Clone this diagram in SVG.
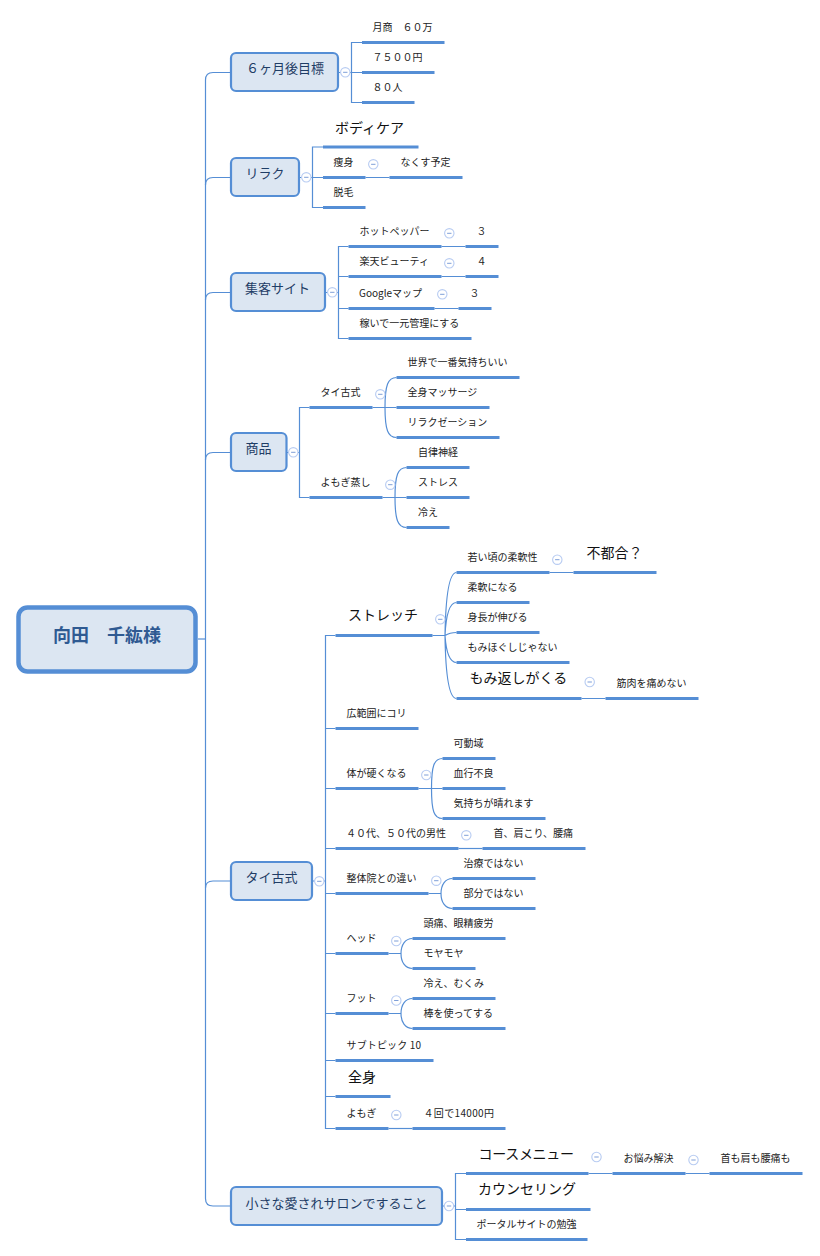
<svg xmlns="http://www.w3.org/2000/svg" width="820" height="1256" viewBox="0 0 820 1256">
<defs>
<style>
text{font-family:"Noto Sans CJK JP","Noto Sans",sans-serif;fill:#222}
.s{font-size:10px}
.m{font-size:14px;fill:#111}
.b{font-size:13px;fill:#1f3d66}
.r{font-size:18px;font-weight:700;fill:#2f5a92}
.box{fill:#dce6f2;stroke:#558ed5;stroke-width:2.2}
.u{stroke:#558ed5;stroke-width:3;fill:none}
.c path{stroke:#558ed5;stroke-width:1.2;fill:none}
</style>
<g id="tog"><circle r="4.7" fill="#fff" stroke="#b8ccf2" stroke-width="1.1"/><path d="M-2.2 0H2.2" stroke="#7f9fd8" stroke-width="1"/></g>
</defs>
<rect width="820" height="1256" fill="#fff"/>
<g id="connectors" class="c">
<path d="M198 639H205.5"/>
<path d="M230.5 72.5H213Q205.5 72.5 205.5 80V1198.5Q205.5 1206 213 1206H230.5"/>
<path d="M230.5 177.5H213Q205.5 177.5 205.5 185"/>
<path d="M230.5 292.5H213Q205.5 292.500 205.5 300"/>
<path d="M230.5 452.5H213Q205.5 452.5 205.5 460"/>
<path d="M230.5 881H213Q205.5 881 205.5 888"/>
<path d="M339 72.5H351.5M362 42.5H351.5V102.5H362M351.5 72.5H362"/>
<path d="M299 177.5H323M323 147H312.5V207.5H323M365.5 177.5H389.5"/>
<path d="M325 292.5H338.5M348.5 246.5H338.5V338.5H348.5M338.5 276.5H348.5M338.5 308.5H348.5M441.5 246.5H465.5M441.5 276.5H465.5M434.5 308.5H458.5"/>
<path d="M287 452.5H299.5M309.5 407.5H299.5V497.5H309.5"/>
<path d="M372.5 407.5H396.5M385 407.5C385 385 388 377.5 396.5 377.5M385 407.5C385 430 388 437.5 396.5 437.5"/>
<path d="M382.5 497.5H406.5M395 497.5C395 475 398 467.5 406.5 467.5M395 497.5C395 520 398 527.5 406.5 527.5"/>
<path d="M312.5 881H325.5M335.5 635.5H325.5V1128.5H335.5M325.5 728.5H335.5M325.5 788.5H335.5M325.5 848.5H335.5M325.5 893.5H335.5M325.5 953.5H335.5M325.5 1013.5H335.5M325.5 1060.5H335.5M325.5 1096.5H335.5"/>
<path d="M432.5 635.5H445M445 635.5C445.500 605 448 572.5 456.5 572.5M445 635.5C446 615 449 602.5 456.5 602.5M445 635.5C449 633 452 632.5 456.5 632.5M445 635.5C446 650 449 662.5 456.5 662.5M445 635.5C445.500 670 448 698.5 456.5 698.5"/>
<path d="M549.5 572.5H573.5M581.5 698.5H605.5"/>
<path d="M418.5 788.5H442.5M431.5 788.5C431.5 766 434 758.5 442.5 758.5M431.5 788.5C431.5 811 434 818.5 442.5 818.5"/>
<path d="M458.5 848.5H482.5"/>
<path d="M428.5 893.5H441M452.5 878.5C445 878.5 441 885 441 893.5C441 902 445 908.5 452.5 908.5"/>
<path d="M388.5 953.5H401M412.5 938.5C405 938.5 401 945 401 953.5C401 962 405 968.5 412.5 968.5"/>
<path d="M388.5 1013.5H401M412.5 998.5C405 998.5 401 1005 401 1013.5C401 1022 405 1028.5 412.5 1028.5"/>
<path d="M388.5 1128.5H412.5"/>
<path d="M443 1206H455.5M466 1173.5H455.5V1239.5H466M455.5 1209.5H466M588.5 1173.5H612.5M685.5 1173.5H709.5"/>
</g>
<g id="root"><rect x="18.5" y="607.5" width="177" height="64" rx="9" fill="#dce6f2" stroke="#558ed5" stroke-width="4.5"/><text class="r" x="53" y="641.500">向田　千紘様</text></g>

<g id="n1"><rect class="box" x="231" y="53" width="107" height="38" rx="5"/><text class="b" x="246" y="72.500">６ヶ月後目標</text><use href="#tog" x="345.3" y="72.3"/></g>
<g id="n1a"><text class="s" x="372.5" y="31">月商　６０万</text><path class="u" d="M362 42.5H444.5"/></g>
<g id="n1b"><text class="s" x="372.5" y="61">７５００円</text><path class="u" d="M362 72.5H434.5"/></g>
<g id="n1c"><text class="s" x="372.5" y="91">８０人</text><path class="u" d="M362 102.5H414.5"/></g>

<g id="n2"><rect class="box" x="231" y="158" width="68" height="38" rx="5"/><text class="b" x="245.5" y="177.500">リラク</text><use href="#tog" x="306.3" y="177.3"/></g>
<g id="n2a"><text class="m" x="335" y="132.5">ボディケア</text><path class="u" d="M323 147H418.5"/></g>
<g id="n2b"><text class="s" x="333.5" y="165.5">痩身</text><path class="u" d="M323 177.5H365.5"/><use href="#tog" x="373.3" y="164.3"/></g>
<g id="n2c"><text class="s" x="400.5" y="165.5">なくす予定</text><path class="u" d="M389.5 177.5H462.5"/></g>
<g id="n2d"><text class="s" x="333.5" y="195.5">脱毛</text><path class="u" d="M323 207.5H365.5"/></g>

<g id="n3"><rect class="box" x="231" y="273" width="94" height="38" rx="5"/><text class="b" x="245" y="292.500">集客サイト</text><use href="#tog" x="332.3" y="292.3"/></g>
<g id="n3a"><text class="s" x="359.5" y="234.5">ホットペッパー</text><path class="u" d="M348.5 246.5H441.5"/><use href="#tog" x="449.3" y="233.3"/></g>
<g id="n3a1"><text class="s" x="476.500" y="234.5">３</text><path class="u" d="M465.5 246.5H498.5"/></g>
<g id="n3b"><text class="s" x="359.5" y="264.5">楽天ビューティ</text><path class="u" d="M348.5 276.5H441.5"/><use href="#tog" x="449.3" y="263.3"/></g>
<g id="n3b1"><text class="s" x="476.500" y="264.5">４</text><path class="u" d="M465.5 276.5H498.5"/></g>
<g id="n3c"><text class="s" x="359" y="296.5">Googleマップ</text><path class="u" d="M348.5 308.5H434.5"/><use href="#tog" x="442.3" y="294.3"/></g>
<g id="n3c1"><text class="s" x="469.500" y="296.5">３</text><path class="u" d="M458.5 308.5H491.5"/></g>
<g id="n3d"><text class="s" x="359.5" y="326.5">稼いで一元管理にする</text><path class="u" d="M348.5 338.5H471.5"/></g>

<g id="n4"><rect class="box" x="231" y="433" width="55.5" height="38" rx="5"/><text class="b" x="245.5" y="453">商品</text><use href="#tog" x="293.3" y="452.3"/></g>
<g id="n4a"><text class="s" x="320.5" y="396">タイ古式</text><path class="u" d="M309.5 407.5H372.5"/><use href="#tog" x="380.3" y="394.3"/></g>
<g id="n4a1"><text class="s" x="407.5" y="365.5">世界で一番気持ちいい</text><path class="u" d="M396.5 377.5H519.5"/></g>
<g id="n4a2"><text class="s" x="407.5" y="395.5">全身マッサージ</text><path class="u" d="M396.5 407.5H489.5"/></g>
<g id="n4a3"><text class="s" x="407.5" y="425.5">リラクゼーション</text><path class="u" d="M396.5 437.5H499.5"/></g>
<g id="n4b"><text class="s" x="320.5" y="485.5">よもぎ蒸し</text><path class="u" d="M309.5 497.5H382.5"/><use href="#tog" x="390.3" y="484.7"/></g>
<g id="n4b1"><text class="s" x="418" y="455.5">自律神経</text><path class="u" d="M406.5 467.5H469.5"/></g>
<g id="n4b2"><text class="s" x="418" y="485.5">ストレス</text><path class="u" d="M406.5 497.5H469.5"/></g>
<g id="n4b3"><text class="s" x="418" y="515.5">冷え</text><path class="u" d="M406.5 527.5H449.5"/></g>

<g id="n5"><rect class="box" x="231" y="862" width="81" height="38" rx="5"/><text class="b" x="245.5" y="881.500">タイ古式</text><use href="#tog" x="319.3" y="881.3"/></g>
<g id="n5a"><text class="m" x="348" y="620">ストレッチ</text><path class="u" d="M335.5 635.5H432.5"/><use href="#tog" x="440.3" y="619.3"/></g>
<g id="n5a1"><text class="s" x="467.5" y="560.5">若い頃の柔軟性</text><path class="u" d="M456.5 572.5H549.5"/><use href="#tog" x="557.3" y="559.7"/></g>
<g id="n5a1a"><text class="m" x="586.5" y="557.5">不都合？</text><path class="u" d="M573.5 572.5H656.5"/></g>
<g id="n5a2"><text class="s" x="467.5" y="590.5">柔軟になる</text><path class="u" d="M456.5 602.5H529.5"/></g>
<g id="n5a3"><text class="s" x="467.5" y="620.5">身長が伸びる</text><path class="u" d="M456.5 632.5H539.5"/></g>
<g id="n5a4"><text class="s" x="467.5" y="650.5">もみほぐしじゃない</text><path class="u" d="M456.5 662.5H569.5"/></g>
<g id="n5a5"><text class="m" x="469.5" y="683">もみ返しがくる</text><path class="u" d="M456.5 698.5H581.5"/><use href="#tog" x="589.7" y="682"/></g>
<g id="n5a5a"><text class="s" x="616.5" y="686.5">筋肉を痛めない</text><path class="u" d="M605.5 698.5H698.5"/></g>
<g id="n5b"><text class="s" x="346.5" y="716.5">広範囲にコリ</text><path class="u" d="M335.5 728.5H418.5"/></g>
<g id="n5c"><text class="s" x="346.5" y="776.5">体が硬くなる</text><path class="u" d="M335.5 788.5H418.5"/><use href="#tog" x="426.3" y="775"/></g>
<g id="n5c1"><text class="s" x="453.5" y="746.5">可動域</text><path class="u" d="M442.5 758.5H495.5"/></g>
<g id="n5c2"><text class="s" x="453.5" y="776.5">血行不良</text><path class="u" d="M442.5 788.5H505.5"/></g>
<g id="n5c3"><text class="s" x="453.5" y="806.5">気持ちが晴れます</text><path class="u" d="M442.5 818.5H545.5"/></g>
<g id="n5d"><text class="s" x="346" y="836.5">４０代、５０代の男性</text><path class="u" d="M335.5 848.5H458.5"/><use href="#tog" x="466.3" y="835.3"/></g>
<g id="n5d1"><text class="s" x="493.5" y="836.5">首、肩こり、腰痛</text><path class="u" d="M482.5 848.5H585.5"/></g>
<g id="n5e"><text class="s" x="346.5" y="881.5">整体院との違い</text><path class="u" d="M335.5 893.5H428.5"/><use href="#tog" x="436.3" y="880.7"/></g>
<g id="n5e1"><text class="s" x="463.5" y="866.5">治療ではない</text><path class="u" d="M452.5 878.5H535.5"/></g>
<g id="n5e2"><text class="s" x="463.5" y="896.5">部分ではない</text><path class="u" d="M452.5 908.5H535.5"/></g>
<g id="n5f"><text class="s" x="346.5" y="941.5">ヘッド</text><path class="u" d="M335.5 953.5H388.5"/><use href="#tog" x="396.3" y="941"/></g>
<g id="n5f1"><text class="s" x="423.5" y="926.5">頭痛、眼精疲労</text><path class="u" d="M412.5 938.5H505.5"/></g>
<g id="n5f2"><text class="s" x="423.5" y="956.5">モヤモヤ</text><path class="u" d="M412.5 968.5H475.5"/></g>
<g id="n5g"><text class="s" x="346.5" y="1001.5">フット</text><path class="u" d="M335.5 1013.5H388.5"/><use href="#tog" x="396.3" y="1000.5"/></g>
<g id="n5g1"><text class="s" x="423.5" y="986.5">冷え、むくみ</text><path class="u" d="M412.5 998.5H495.5"/></g>
<g id="n5g2"><text class="s" x="423.5" y="1016.5">棒を使ってする</text><path class="u" d="M412.5 1028.5H505.5"/></g>
<g id="n5h"><text class="s" x="346.5" y="1048.5" textLength="74.5">サブトピック 10</text><path class="u" d="M335.5 1060.5H433.5"/></g>
<g id="n5i"><text class="m" x="348" y="1082">全身</text><path class="u" d="M335.5 1096.5H390.5"/></g>
<g id="n5j"><text class="s" x="346.5" y="1116.5">よもぎ</text><path class="u" d="M335.5 1128.5H388.5"/><use href="#tog" x="396.3" y="1115"/></g>
<g id="n5j1"><text class="s" x="423.5" y="1116.5" textLength="70.5">４回で14000円</text><path class="u" d="M412.5 1128.5H505.5"/></g>

<g id="n6"><rect class="box" x="231" y="1187" width="211" height="38" rx="5"/><text class="b" x="245.5" y="1207.5">小さな愛されサロンですること</text><use href="#tog" x="449" y="1206"/></g>
<g id="n6a"><text class="m" x="478.5" y="1159" textLength="95.5">コースメニュー</text><path class="u" d="M466 1173.5H588.5"/><use href="#tog" x="596.5" y="1157"/></g>
<g id="n6a1"><text class="s" x="623.5" y="1161.5">お悩み解決</text><path class="u" d="M612.5 1173.5H685.5"/><use href="#tog" x="693.5" y="1160"/></g>
<g id="n6a2"><text class="s" x="720.5" y="1161.5">首も肩も腰痛も</text><path class="u" d="M709.5 1173.5H802.5"/></g>
<g id="n6b"><text class="m" x="478" y="1194">カウンセリング</text><path class="u" d="M466 1209.5H590.5"/></g>
<g id="n6c"><text class="s" x="476.5" y="1227.5">ポータルサイトの勉強</text><path class="u" d="M466 1239.5H587.5"/></g>
</svg>
